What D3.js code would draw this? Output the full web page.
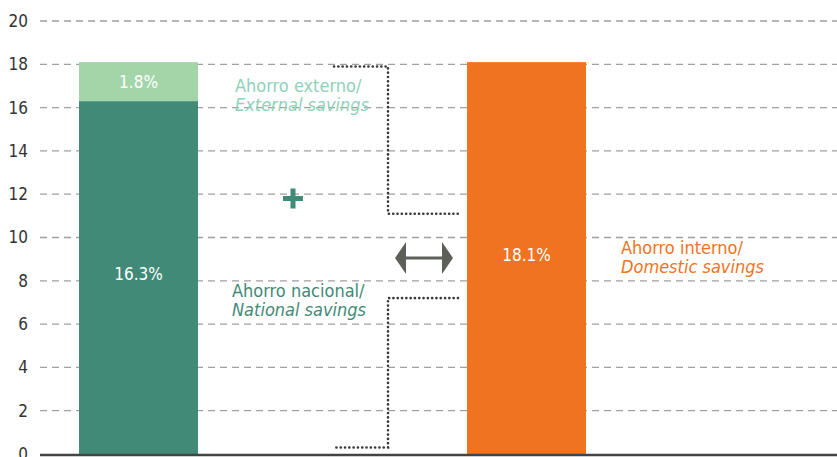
<!DOCTYPE html>
<meta charset="utf-8">
<style>
    body { margin: 0; background: #fff; }
    text { font-family: "Liberation Sans Narrow", "DejaVu Sans Condensed", sans-serif; }
    .grid line { stroke: #a0a0a0; stroke-width: 1.3; stroke-dasharray: 7,5; }
    .tick-label { fill: #333; font-size: 17px; }
    .dots { fill: none; stroke: #3a3a3a; stroke-width: 2.6; stroke-dasharray: 0.1,4.2; stroke-linecap: round; }
</style>
<body>
<script src="https://cdn.jsdelivr.net/npm/d3@7"></script>
<script>
    var slots = ['national', 'labels', 'bridge', 'domestic'],
        yTicks = [0, 2, 4, 6, 8, 10, 12, 14, 16, 18, 20],
        nationalSavings = 16.3,
        externalSavings = 1.8,
        domesticSavings = 18.1,
        // bracket corners in chart units: top segment and bottom segment
        bracketTop = [17.9, 11.1],
        bracketBottom = [7.2, 0.3];

    var width = 837, height = 457;

    var svg = d3.select('body').append('svg')
        .attr('width', width)
        .attr('height', height);

    var y = d3.scaleLinear().domain([0, 20]).range([454, 21]);
    var x = d3.scaleBand().domain(slots).range([79, 586]).paddingInner(0.08);

    // grid
    svg.append('g').attr('class', 'grid')
        .selectAll('line')
        .data(yTicks.filter(function(d) { return d > 0; }))
        .enter().append('line')
        .attr('x1', 40).attr('x2', width)
        .attr('y1', function(d) { return y(d); })
        .attr('y2', function(d) { return y(d); });

    svg.append('g')
        .selectAll('text')
        .data(yTicks)
        .enter().append('text')
        .attr('class', 'tick-label')
        .attr('x', 28)
        .attr('y', function(d) { return y(d); })
        .attr('dy', '0.35em')
        .attr('text-anchor', 'end')
        .text(function(d) { return d; });

    // stacked bar
    var bw = x.bandwidth();
    svg.append('rect')
        .attr('x', x('national')).attr('width', bw)
        .attr('y', y(nationalSavings)).attr('height', y(0) - y(nationalSavings))
        .attr('fill', '#418a78');
    svg.append('rect')
        .attr('x', x('national')).attr('width', bw)
        .attr('y', y(nationalSavings + externalSavings))
        .attr('height', y(nationalSavings) - y(nationalSavings + externalSavings))
        .attr('fill', '#a4d5a9');
    svg.append('rect')
        .attr('x', x('domestic')).attr('width', bw)
        .attr('y', y(domesticSavings)).attr('height', y(0) - y(domesticSavings))
        .attr('fill', '#f07321');

    // baseline
    svg.append('line')
        .attr('x1', 40).attr('x2', width)
        .attr('y1', y(0) + 1).attr('y2', y(0) + 1)
        .attr('stroke', '#444').attr('stroke-width', 2.5);

    // bar values
    function pct(v) { return v.toFixed(1) + '%'; }
    svg.append('text')
        .attr('x', x('national') + bw / 2).attr('y', y(nationalSavings + externalSavings / 2))
        .attr('dy', '0.35em').attr('text-anchor', 'middle')
        .attr('fill', '#fff').attr('font-size', 17).text(pct(externalSavings));
    svg.append('text')
        .attr('x', x('national') + bw / 2).attr('y', y(8.3))
        .attr('dy', '0.35em').attr('text-anchor', 'middle')
        .attr('fill', '#fff').attr('font-size', 17).text(pct(nationalSavings));
    svg.append('text')
        .attr('x', x('domestic') + bw / 2).attr('y', y(9.2))
        .attr('dy', '0.35em').attr('text-anchor', 'middle')
        .attr('fill', '#fff').attr('font-size', 17).text(pct(domesticSavings));

    // series labels
    function label(xp, yp, color, a, b) {
        var t = svg.append('text').attr('x', xp).attr('y', yp)
            .attr('fill', color).attr('font-size', 18);
        t.append('tspan').text(a);
        t.append('tspan').attr('x', xp).attr('dy', 19).attr('font-style', 'italic').text(b);
    }
    label(235, y(17.0) + 6, '#8dd3b8', 'Ahorro externo/', 'External savings');
    label(232, y(7.55) + 6, '#3f8a75', 'Ahorro nacional/', 'National savings');
    label(621, y(9.5) + 6, '#f07321', 'Ahorro interno/', 'Domestic savings');

    // plus sign
    var px = 293, py = y(11.8);
    svg.append('path')
        .attr('d', 'M' + (px - 10) + ',' + py + 'H' + (px + 10) + 'M' + px + ',' + (py - 10) + 'V' + (py + 10))
        .attr('stroke', '#418a78').attr('stroke-width', 5);

    // dotted bracket
    var bx = 388, bl = 334, br = 458;
    svg.append('path').attr('class', 'dots')
        .attr('d', 'M' + bl + ',' + y(bracketTop[0]) + 'H' + bx + 'V' + y(bracketTop[1]) + 'H' + br);
    svg.append('path').attr('class', 'dots')
        .attr('d', 'M' + br + ',' + y(bracketBottom[0]) + 'H' + bx + 'V' + y(bracketBottom[1]) + 'H' + bl);

    // double arrow
    var ay = y(9.05), ax1 = 395, ax2 = 453;
    svg.append('line')
        .attr('x1', ax1 + 8).attr('x2', ax2 - 8).attr('y1', ay).attr('y2', ay)
        .attr('stroke', '#5d6058').attr('stroke-width', 3);
    svg.append('path')
        .attr('d', 'M' + ax1 + ',' + ay + 'L' + (ax1 + 11) + ',' + (ay - 16) + 'L' + (ax1 + 11) + ',' + (ay + 16) + 'Z' +
            'M' + ax2 + ',' + ay + 'L' + (ax2 - 11) + ',' + (ay - 16) + 'L' + (ax2 - 11) + ',' + (ay + 16) + 'Z')
        .attr('fill', '#5d6058');
</script>
</body>
